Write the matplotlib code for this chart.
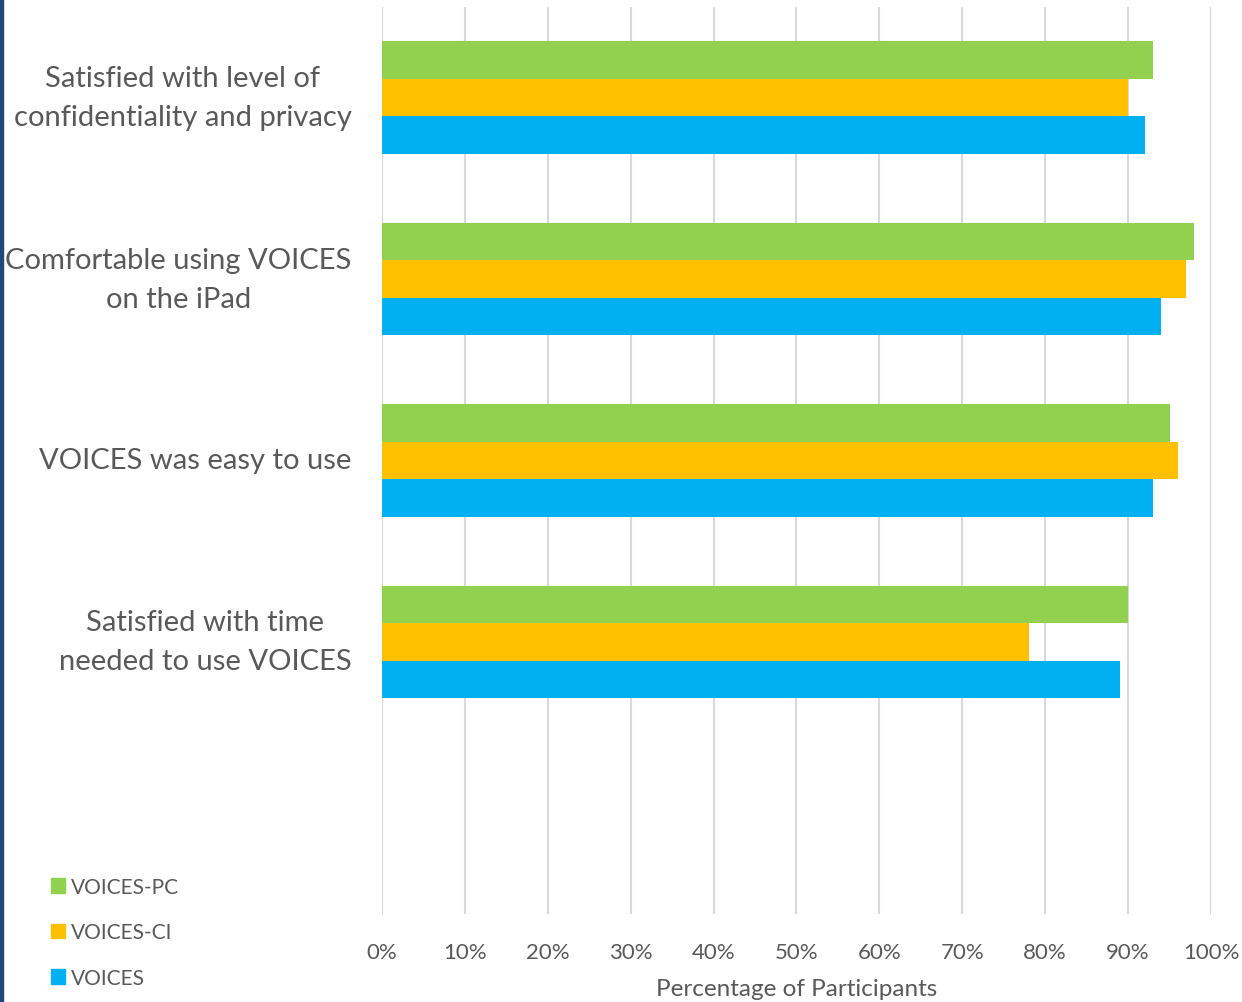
import numpy as np
import matplotlib
matplotlib.use("Agg")
from matplotlib import pyplot as plt
from matplotlib.patches import Patch, Rectangle
from matplotlib.transforms import ScaledTranslation

plt.rcParams['font.family'] = ['Lato', 'DejaVu Sans']

categories = ["Satisfied with level of\nconfidentiality and privacy",
              "Comfortable using VOICES\non the iPad",
              "VOICES was easy to use",
              "Satisfied with time\nneeded to use VOICES",
              ""]
series_names = ["VOICES-PC", "VOICES-CI", "VOICES"]
voices_pc = [93, 98, 95, 90]
voices_ci = [90, 97, 96, 78]
voices = [92, 94, 93, 89]
xticks = [0, 10, 20, 30, 40, 50, 60, 70, 80, 90, 100]
xtick_labels = ["%d%%" % v for v in xticks]

colors = ["#92D050", "#FFC000", "#00B0F0"]
text_col = "#595959"
grid_col = "#D9D9D9"

fig = plt.figure(figsize=(12.42, 10.03), dpi=100)
ax = fig.add_axes([382 / 1242, 1 - 915 / 1003, (1211 - 382) / 1242, 907 / 1003])

n = len(categories)
pos = np.arange(n)  # 0 at top after inverting
bh = 0.207
for i, (name, vals) in enumerate(zip(series_names, [voices_pc, voices_ci, voices])):
    ax.barh(pos[:len(vals)] + (i - 1) * bh, vals, height=bh, color=colors[i],
            label=name, zorder=3)

ax.set_ylim(n - 0.5, -0.5)
ax.set_xlim(0, 100)
ax.set_xticks(xticks)
ax.set_xticklabels(xtick_labels, color=text_col, fontsize=16)
ax.set_yticks(pos)
ax.set_yticklabels(categories, color=text_col, fontsize=21, multialignment='center')
shift = ScaledTranslation(0, -3 / 100, fig.dpi_scale_trans)
for lab in ax.get_yticklabels():
    lab.set_linespacing(1.62)
    lab.set_verticalalignment('center')
    lab.set_transform(lab.get_transform() + shift)
ax.tick_params(axis='x', length=0, pad=20)
ax.tick_params(axis='y', length=0, pad=22)
ax.grid(axis='x', color=grid_col, linewidth=1.5, zorder=0)
for s in ax.spines.values():
    s.set_visible(False)
ax.set_xlabel("Percentage of Participants", color=text_col, fontsize=17.5, labelpad=12)

handles = [Patch(color=c, label=l) for c, l in zip(colors, series_names)]
fig.legend(handles=handles, loc='upper left', bbox_to_anchor=(32 / 1242, 1 - 859 / 1003),
           frameon=False, fontsize=15, handlelength=0.7, handleheight=0.7,
           handletextpad=0.25, labelspacing=1.22, labelcolor=text_col)

# dark blue strip on the left edge
fig.patches.append(Rectangle((0, 0), 3 / 1242, 1, transform=fig.transFigure,
                             color="#1F497D", zorder=5))

fig.savefig("out.png", dpi=100)
